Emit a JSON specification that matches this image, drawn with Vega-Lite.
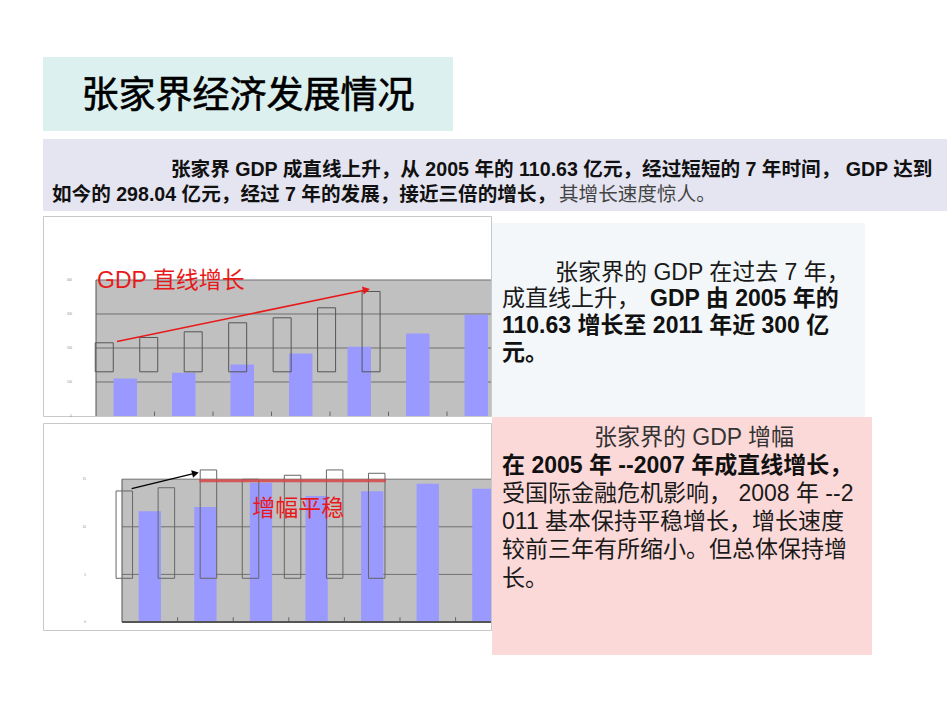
{
  "$schema": "https://vega.github.io/schema/vega-lite/v6.json",
  "background": "white",
  "padding": {"left": 42, "top": 57, "right": 0, "bottom": 0},
  "config": {"view": {"stroke": null}, "scale": {"continuousPadding": 0}},
  "spacing": 4,
  "vconcat": [
    {
      "spacing": 8,
      "vconcat": [
        {
          "width": 410, "height": 74,
          "view": {"fill": "#dcf0ef", "stroke": null},
          "data": {"values": [{"title": "张家界经济发展情况"}]},
          "mark": {"type": "text", "font": "Noto Sans CJK SC", "fontSize": 37, "color": "#000000", "stroke": "#000000", "strokeWidth": 0.6, "align": "center", "baseline": "middle", "dy": 3},
          "encoding": {"text": {"field": "title"}}
        },
        {
          "width": 904, "height": 72,
          "view": {"fill": "#e5e5f1", "stroke": null},
          "layer": [
            {
              "data": {"values": [
                {"line": 1, "text": "张家界 GDP 成直线上升，从 2005 年的 110.63 亿元，经过短短的 7 年时间， GDP 达到"}
              ]},
              "mark": {"type": "text", "font": "Liberation Sans Narrow, Liberation Sans, Noto Sans CJK SC", "fontSize": 19.6, "fontWeight": "bold", "color": "#111111", "align": "left", "baseline": "middle", "dx": 128},
              "encoding": {
                "x": {"datum": 0, "type": "quantitative", "scale": {"domain": [0, 1]}, "axis": null},
                "y": {"field": "line", "type": "quantitative", "scale": {"domain": [-0.24, 2.64], "reverse": true, "nice": false, "zero": false}, "axis": null},
                "text": {"field": "text"}
              }
            },
            {
              "data": {"values": [
                {"line": 2, "text": "如今的 298.04 亿元，经过 7 年的发展，接近三倍的增长，"}
              ]},
              "mark": {"type": "text", "font": "Liberation Sans Narrow, Liberation Sans, Noto Sans CJK SC", "fontSize": 19.6, "fontWeight": "bold", "color": "#111111", "align": "left", "baseline": "middle", "dx": 9},
              "encoding": {
                "x": {"datum": 0, "type": "quantitative", "scale": {"domain": [0, 1]}, "axis": null},
                "y": {"field": "line", "type": "quantitative", "scale": {"domain": [-0.24, 2.64], "reverse": true, "nice": false, "zero": false}, "axis": null},
                "text": {"field": "text"}
              }
            },
            {
              "data": {"values": [{"line": 2, "text": "其增长速度惊人。"}]},
              "mark": {"type": "text", "font": "Liberation Sans Narrow, Liberation Sans, Noto Sans CJK SC", "fontSize": 19.6, "color": "#444444", "align": "left", "baseline": "middle", "dx": 516},
              "encoding": {
                "x": {"datum": 0, "type": "quantitative", "scale": {"domain": [0, 1]}, "axis": null},
                "y": {"field": "line", "type": "quantitative", "scale": {"domain": [-0.24, 2.64], "reverse": true, "nice": false, "zero": false}, "axis": null},
                "text": {"field": "text"}
              }
            }
          ]
        }
      ]
    },
    {
      "spacing": 0,
      "hconcat": [
        {
          "spacing": 3,
          "vconcat": [
            {
              "width": 448, "height": 200,
              "view": {"fill": "white", "stroke": "#c8c8c8"},
              "resolve": {"scale": {"x": "independent"}},
              "layer": [
                {
                  "data": {"values": [{}]},
                  "mark": {"type": "rect", "color": "#c0c0c0", "clip": true},
                  "encoding": {
                    "x": {"datum": 2004.5, "type": "quantitative", "scale": {"domain": [2003.594, 2011.252], "nice": false, "zero": false, "padding": 0}, "axis": null},
                    "x2": {"datum": 2011.5},
                    "y": {"datum": 0, "type": "quantitative", "scale": {"domain": [0, 588.2], "nice": false, "zero": false, "padding": 0}, "axis": null},
                    "y2": {"datum": 400}
                  }
                },
                {
                  "data": {"values": [{"v": 100}, {"v": 200}, {"v": 300}, {"v": 400}]},
                  "mark": {"type": "rule", "color": "#707070", "strokeWidth": 1, "clip": true},
                  "encoding": {
                    "x": {"datum": 2004.5, "type": "quantitative", "scale": {"domain": [2003.594, 2011.252], "nice": false, "zero": false, "padding": 0}, "axis": null},
                    "x2": {"datum": 2011.5},
                    "y": {"field": "v", "type": "quantitative", "scale": {"domain": [0, 588.2], "nice": false, "zero": false, "padding": 0}, "axis": null}
                  }
                },
                {
                  "data": {"values": [{"v": 0}, {"v": 100}, {"v": 200}, {"v": 300}, {"v": 400}]},
                  "mark": {"type": "text", "fontSize": 3, "color": "#888888", "align": "right", "baseline": "middle"},
                  "encoding": {
                    "x": {"datum": 2004.09, "type": "quantitative", "scale": {"domain": [2003.594, 2011.252], "nice": false, "zero": false, "padding": 0}, "axis": null},
                    "y": {"field": "v", "type": "quantitative", "scale": {"domain": [0, 588.2], "nice": false, "zero": false, "padding": 0}, "axis": null},
                    "text": {"field": "v"}
                  }
                },
                {
                  "data": {"values": [{}]},
                  "mark": {"type": "rule", "color": "#555555", "strokeWidth": 1},
                  "encoding": {
                    "x": {"datum": 2004.5, "type": "quantitative", "scale": {"domain": [2003.594, 2011.252], "nice": false, "zero": false, "padding": 0}, "axis": null},
                    "y": {"datum": 0, "type": "quantitative", "scale": {"domain": [0, 588.2], "nice": false, "zero": false, "padding": 0}, "axis": null},
                    "y2": {"datum": 400}
                  }
                },
                {
                  "data": {"values": [
                    {"year": 2005, "gdp": 110.63}, {"year": 2006, "gdp": 127}, {"year": 2007, "gdp": 151.5},
                    {"year": 2008, "gdp": 183.8}, {"year": 2009, "gdp": 203.5}, {"year": 2010, "gdp": 242.6}, {"year": 2011, "gdp": 298.04}
                  ]},
                  "layer": [
                    {
                      "mark": {"type": "bar", "color": "#9999ff", "size": 23.5, "clip": true},
                      "encoding": {
                        "x": {"field": "year", "type": "quantitative", "scale": {"domain": [2003.594, 2011.252], "nice": false, "zero": false, "padding": 0}, "axis": null},
                        "y": {"field": "gdp", "type": "quantitative", "scale": {"domain": [0, 588.2], "nice": false, "zero": false, "padding": 0}, "axis": null},
                        "y2": {"datum": 0}
                      }
                    },
                    {
                      "mark": {"type": "rule", "color": "#666666", "xOffset": 29.25, "clip": true},
                      "encoding": {
                        "x": {"field": "year", "type": "quantitative", "scale": {"domain": [2003.594, 2011.252], "nice": false, "zero": false, "padding": 0}, "axis": null},
                        "y": {"datum": 0, "type": "quantitative", "scale": {"domain": [0, 588.2], "nice": false, "zero": false, "padding": 0}, "axis": null},
                        "y2": {"datum": 13}
                      }
                    }
                  ]
                },
                {
                  "data": {"values": [
                    {"i": 1, "low": 130, "high": 215.3}, {"i": 2, "low": 130, "high": 230.9}, {"i": 3, "low": 130, "high": 247.6},
                    {"i": 4, "low": 130, "high": 274.1}, {"i": 5, "low": 130, "high": 288.8}, {"i": 6, "low": 130, "high": 318.2}, {"i": 7, "low": 130, "high": 366.2}
                  ]},
                  "mark": {"type": "bar", "fillOpacity": 0, "stroke": "#555555", "strokeWidth": 1, "size": 18},
                  "encoding": {
                    "x": {"field": "i", "type": "quantitative", "scale": {"domain": [-0.378, 9.697], "nice": false, "zero": false, "padding": 0}, "axis": null},
                    "y": {"field": "high", "type": "quantitative", "scale": {"domain": [0, 588.2], "nice": false, "zero": false, "padding": 0}, "axis": null},
                    "y2": {"field": "low"}
                  }
                },
                {
                  "data": {"values": [{}]},
                  "mark": {"type": "rule", "color": "#e8191a", "strokeWidth": 1.6},
                  "encoding": {
                    "x": {"datum": 2004.859, "type": "quantitative", "scale": {"domain": [2003.594, 2011.252], "nice": false, "zero": false, "padding": 0}, "axis": null},
                    "x2": {"datum": 2009.15},
                    "y": {"datum": 219.1, "type": "quantitative", "scale": {"domain": [0, 588.2], "nice": false, "zero": false, "padding": 0}, "axis": null},
                    "y2": {"datum": 372.0}
                  }
                },
                {
                  "data": {"values": [{}]},
                  "mark": {"type": "point", "shape": "triangle-right", "filled": true, "color": "#e8191a", "opacity": 1, "size": 70, "angle": 348.3},
                  "encoding": {
                    "x": {"datum": 2009.122, "type": "quantitative", "scale": {"domain": [2003.594, 2011.252], "nice": false, "zero": false, "padding": 0}, "axis": null},
                    "y": {"datum": 371.2, "type": "quantitative", "scale": {"domain": [0, 588.2], "nice": false, "zero": false, "padding": 0}, "axis": null}
                  }
                },
                {
                  "data": {"values": [{"label": "GDP 直线增长"}]},
                  "mark": {"type": "text", "font": "Liberation Sans, Noto Sans CJK SC", "fontSize": 23, "color": "#e8191a", "align": "left", "baseline": "middle"},
                  "encoding": {
                    "x": {"datum": 2004.517, "type": "quantitative", "scale": {"domain": [2003.594, 2011.252], "nice": false, "zero": false, "padding": 0}, "axis": null},
                    "y": {"datum": 398.5, "type": "quantitative", "scale": {"domain": [0, 588.2], "nice": false, "zero": false, "padding": 0}, "axis": null},
                    "text": {"field": "label"}
                  }
                }
              ]
            },
            {
              "width": 448, "height": 207,
              "view": {"fill": "white", "stroke": "#c8c8c8"},
              "resolve": {"scale": {"x": "independent"}},
              "layer": [
                {
                  "data": {"values": [{}]},
                  "mark": {"type": "rect", "color": "#c0c0c0", "clip": true},
                  "encoding": {
                    "x": {"datum": 2004.5, "type": "quantitative", "scale": {"domain": [2003.079, 2011.137], "nice": false, "zero": false, "padding": 0}, "axis": null},
                    "x2": {"datum": 2011.5},
                    "y": {"datum": 0, "type": "quantitative", "scale": {"domain": [-0.84, 20.9], "nice": false, "zero": false, "padding": 0}, "axis": null},
                    "y2": {"datum": 15}
                  }
                },
                {
                  "data": {"values": [{"v": 5}, {"v": 10}, {"v": 15}]},
                  "mark": {"type": "rule", "color": "#707070", "strokeWidth": 1, "clip": true},
                  "encoding": {
                    "x": {"datum": 2004.5, "type": "quantitative", "scale": {"domain": [2003.079, 2011.137], "nice": false, "zero": false, "padding": 0}, "axis": null},
                    "x2": {"datum": 2011.5},
                    "y": {"field": "v", "type": "quantitative", "scale": {"domain": [-0.84, 20.9], "nice": false, "zero": false, "padding": 0}, "axis": null}
                  }
                },
                {
                  "data": {"values": [{"v": 0}, {"v": 5}, {"v": 10}, {"v": 15}]},
                  "mark": {"type": "text", "fontSize": 3, "color": "#888888", "align": "right", "baseline": "middle"},
                  "encoding": {
                    "x": {"datum": 2003.85, "type": "quantitative", "scale": {"domain": [2003.079, 2011.137], "nice": false, "zero": false, "padding": 0}, "axis": null},
                    "y": {"field": "v", "type": "quantitative", "scale": {"domain": [-0.84, 20.9], "nice": false, "zero": false, "padding": 0}, "axis": null},
                    "text": {"field": "v"}
                  }
                },
                {
                  "data": {"values": [{}]},
                  "mark": {"type": "rule", "color": "#555555", "strokeWidth": 1},
                  "encoding": {
                    "x": {"datum": 2004.5, "type": "quantitative", "scale": {"domain": [2003.079, 2011.137], "nice": false, "zero": false, "padding": 0}, "axis": null},
                    "y": {"datum": 0, "type": "quantitative", "scale": {"domain": [-0.84, 20.9], "nice": false, "zero": false, "padding": 0}, "axis": null},
                    "y2": {"datum": 15}
                  }
                },
                {
                  "data": {"values": [
                    {"year": 2005, "rate": 11.63}, {"year": 2006, "rate": 12.08}, {"year": 2007, "rate": 14.63},
                    {"year": 2008, "rate": 13.24}, {"year": 2009, "rate": 13.73}, {"year": 2010, "rate": 14.53}, {"year": 2011, "rate": 14.0}
                  ]},
                  "layer": [
                    {
                      "mark": {"type": "bar", "color": "#9999ff", "size": 22.3, "clip": true},
                      "encoding": {
                        "x": {"field": "year", "type": "quantitative", "scale": {"domain": [2003.079, 2011.137], "nice": false, "zero": false, "padding": 0}, "axis": null},
                        "y": {"field": "rate", "type": "quantitative", "scale": {"domain": [-0.84, 20.9], "nice": false, "zero": false, "padding": 0}, "axis": null},
                        "y2": {"datum": 0}
                      }
                    },
                    {
                      "mark": {"type": "rule", "color": "#666666", "xOffset": 27.8, "clip": true},
                      "encoding": {
                        "x": {"field": "year", "type": "quantitative", "scale": {"domain": [2003.079, 2011.137], "nice": false, "zero": false, "padding": 0}, "axis": null},
                        "y": {"datum": 0, "type": "quantitative", "scale": {"domain": [-0.84, 20.9], "nice": false, "zero": false, "padding": 0}, "axis": null},
                        "y2": {"datum": 0.5}
                      }
                    }
                  ]
                },
                {
                  "data": {"values": [{}]},
                  "mark": {"type": "rule", "color": "#555555", "strokeWidth": 2, "clip": true},
                  "encoding": {
                    "x": {"datum": 2004.5, "type": "quantitative", "scale": {"domain": [2003.079, 2011.137], "nice": false, "zero": false, "padding": 0}, "axis": null},
                    "x2": {"datum": 2011.5},
                    "y": {"datum": 0, "type": "quantitative", "scale": {"domain": [-0.84, 20.9], "nice": false, "zero": false, "padding": 0}, "axis": null}
                  }
                },
                {
                  "data": {"values": [
                    {"i": 1, "low": 4.59, "high": 13.76}, {"i": 2, "low": 4.59, "high": 14.1}, {"i": 3, "low": 4.59, "high": 15.97},
                    {"i": 4, "low": 4.59, "high": 14.99}, {"i": 5, "low": 4.59, "high": 15.41}, {"i": 6, "low": 4.59, "high": 15.97}, {"i": 7, "low": 4.59, "high": 15.62}
                  ]},
                  "mark": {"type": "bar", "fillOpacity": 0, "stroke": "#666666", "strokeWidth": 1, "size": 16.5},
                  "encoding": {
                    "x": {"field": "i", "type": "quantitative", "scale": {"domain": [-0.9325, 9.716], "nice": false, "zero": false, "padding": 0}, "axis": null},
                    "y": {"field": "high", "type": "quantitative", "scale": {"domain": [-0.84, 20.9], "nice": false, "zero": false, "padding": 0}, "axis": null},
                    "y2": {"field": "low"}
                  }
                },
                {
                  "data": {"values": [{}]},
                  "mark": {"type": "rule", "color": "#d64545", "strokeWidth": 3, "opacity": 0.85},
                  "encoding": {
                    "x": {"datum": 2005.89, "type": "quantitative", "scale": {"domain": [2003.079, 2011.137], "nice": false, "zero": false, "padding": 0}, "axis": null},
                    "x2": {"datum": 2009.248},
                    "y": {"datum": 14.84, "type": "quantitative", "scale": {"domain": [-0.84, 20.9], "nice": false, "zero": false, "padding": 0}, "axis": null}
                  }
                },
                {
                  "data": {"values": [{}]},
                  "mark": {"type": "rule", "color": "#000000", "strokeWidth": 1.3},
                  "encoding": {
                    "x": {"datum": 2004.674, "type": "quantitative", "scale": {"domain": [2003.079, 2011.137], "nice": false, "zero": false, "padding": 0}, "axis": null},
                    "x2": {"datum": 2005.84},
                    "y": {"datum": 14.0, "type": "quantitative", "scale": {"domain": [-0.84, 20.9], "nice": false, "zero": false, "padding": 0}, "axis": null},
                    "y2": {"datum": 15.65}
                  }
                },
                {
                  "data": {"values": [{}]},
                  "mark": {"type": "point", "shape": "triangle-right", "filled": true, "color": "#000000", "opacity": 1, "size": 60, "angle": 346.4},
                  "encoding": {
                    "x": {"datum": 2005.82, "type": "quantitative", "scale": {"domain": [2003.079, 2011.137], "nice": false, "zero": false, "padding": 0}, "axis": null},
                    "y": {"datum": 15.63, "type": "quantitative", "scale": {"domain": [-0.84, 20.9], "nice": false, "zero": false, "padding": 0}, "axis": null}
                  }
                },
                {
                  "data": {"values": [{"label": "增幅平稳"}]},
                  "mark": {"type": "text", "font": "Noto Sans CJK SC", "fontSize": 23, "color": "#e8191a", "align": "center", "baseline": "middle"},
                  "encoding": {
                    "x": {"datum": 2007.671, "type": "quantitative", "scale": {"domain": [2003.079, 2011.137], "nice": false, "zero": false, "padding": 0}, "axis": null},
                    "y": {"datum": 11.84, "type": "quantitative", "scale": {"domain": [-0.84, 20.9], "nice": false, "zero": false, "padding": 0}, "axis": null},
                    "text": {"field": "label"}
                  }
                }
              ]
            }
          ]
        },
        {
          "spacing": 0,
          "vconcat": [
            {
              "width": 373, "height": 7,
              "data": {"values": []},
              "mark": "rect",
              "encoding": {}
            },
            {
              "width": 373, "height": 194,
              "view": {"fill": "#f3f7f9", "stroke": null},
              "layer": [
                {
                  "data": {"values": [{"line": 1, "text": "张家界的 GDP 在过去 7 年，"}]},
                  "mark": {"type": "text", "font": "Liberation Sans, Noto Sans CJK SC", "fontSize": 23, "color": "#1a1a1a", "align": "left", "baseline": "middle", "dx": 63},
                  "encoding": {
                    "x": {"datum": 0, "type": "quantitative", "scale": {"domain": [0, 1]}, "axis": null},
                    "y": {"field": "line", "type": "quantitative", "scale": {"domain": [-0.863, 6.41], "reverse": true, "nice": false, "zero": false}, "axis": null},
                    "text": {"field": "text"}
                  }
                },
                {
                  "data": {"values": [{"line": 2, "text": "成直线上升，"}]},
                  "mark": {"type": "text", "font": "Liberation Sans, Noto Sans CJK SC", "fontSize": 23, "color": "#1a1a1a", "align": "left", "baseline": "middle", "dx": 10},
                  "encoding": {
                    "x": {"datum": 0, "type": "quantitative", "scale": {"domain": [0, 1]}, "axis": null},
                    "y": {"field": "line", "type": "quantitative", "scale": {"domain": [-0.863, 6.41], "reverse": true, "nice": false, "zero": false}, "axis": null},
                    "text": {"field": "text"}
                  }
                },
                {
                  "data": {"values": [
                    {"line": 3, "text": "110.63 增长至 2011 年近 300 亿"},
                    {"line": 4, "text": "元。"}
                  ]},
                  "mark": {"type": "text", "font": "Liberation Sans, Noto Sans CJK SC", "fontSize": 23, "fontWeight": "bold", "color": "#111111", "align": "left", "baseline": "middle", "dx": 10},
                  "encoding": {
                    "x": {"datum": 0, "type": "quantitative", "scale": {"domain": [0, 1]}, "axis": null},
                    "y": {"field": "line", "type": "quantitative", "scale": {"domain": [-0.863, 6.41], "reverse": true, "nice": false, "zero": false}, "axis": null},
                    "text": {"field": "text"}
                  }
                },
                {
                  "data": {"values": [{"line": 2, "text": "GDP 由 2005 年的"}]},
                  "mark": {"type": "text", "font": "Liberation Sans, Noto Sans CJK SC", "fontSize": 23, "fontWeight": "bold", "color": "#111111", "align": "left", "baseline": "middle", "dx": 158},
                  "encoding": {
                    "x": {"datum": 0, "type": "quantitative", "scale": {"domain": [0, 1]}, "axis": null},
                    "y": {"field": "line", "type": "quantitative", "scale": {"domain": [-0.863, 6.41], "reverse": true, "nice": false, "zero": false}, "axis": null},
                    "text": {"field": "text"}
                  }
                }
              ]
            },
            {
              "width": 380, "height": 238,
              "view": {"fill": "#fcd9d9", "stroke": null},
              "layer": [
                {
                  "data": {"values": [{"line": 1, "text": "张家界的 GDP 增幅"}]},
                  "mark": {"type": "text", "font": "Liberation Sans, Noto Sans CJK SC", "fontSize": 23, "color": "#333333", "align": "center", "baseline": "middle", "dx": 12},
                  "encoding": {
                    "x": {"datum": 0.5, "type": "quantitative", "scale": {"domain": [0, 1]}, "axis": null},
                    "y": {"field": "line", "type": "quantitative", "scale": {"domain": [0.266, 8.706], "reverse": true, "nice": false, "zero": false}, "axis": null},
                    "text": {"field": "text"}
                  }
                },
                {
                  "data": {"values": [{"line": 2, "text": "在 2005 年 --2007 年成直线增长，"}]},
                  "mark": {"type": "text", "font": "Liberation Sans, Noto Sans CJK SC", "fontSize": 23, "fontWeight": "bold", "color": "#111111", "align": "left", "baseline": "middle", "dx": 10},
                  "encoding": {
                    "x": {"datum": 0, "type": "quantitative", "scale": {"domain": [0, 1]}, "axis": null},
                    "y": {"field": "line", "type": "quantitative", "scale": {"domain": [0.266, 8.706], "reverse": true, "nice": false, "zero": false}, "axis": null},
                    "text": {"field": "text"}
                  }
                },
                {
                  "data": {"values": [
                    {"line": 3, "text": "受国际金融危机影响， 2008 年 --2"},
                    {"line": 4, "text": "011 基本保持平稳增长，增长速度"},
                    {"line": 5, "text": "较前三年有所缩小。但总体保持增"},
                    {"line": 6, "text": "长。"}
                  ]},
                  "mark": {"type": "text", "font": "Liberation Sans, Noto Sans CJK SC", "fontSize": 23, "color": "#1a1a1a", "align": "left", "baseline": "middle", "dx": 10},
                  "encoding": {
                    "x": {"datum": 0, "type": "quantitative", "scale": {"domain": [0, 1]}, "axis": null},
                    "y": {"field": "line", "type": "quantitative", "scale": {"domain": [0.266, 8.706], "reverse": true, "nice": false, "zero": false}, "axis": null},
                    "text": {"field": "text"}
                  }
                }
              ]
            }
          ]
        }
      ]
    }
  ]
}
